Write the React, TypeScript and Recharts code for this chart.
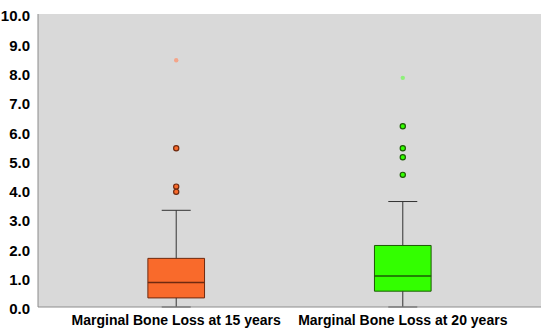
import React from "react";
import {
  ComposedChart,
  XAxis,
  YAxis,
  CartesianGrid,
  ReferenceArea,
  ReferenceLine,
  Scatter,
} from "recharts";

const categories = ["Marginal Bone Loss at 15 years", "Marginal Bone Loss at 20 years"];
const positions = [1, 2];
const mins = [0, 0];
const q1s = [0.31, 0.54];
const medians = [0.84, 1.06];
const q3s = [1.66, 2.1];
const maxs = [3.3, 3.6];
const outliers15 = [5.42, 4.11, 3.93];
const outliers20 = [6.17, 5.42, 5.11, 4.51];
const extremes = [[8.42], [7.82]];
const yTicks = [0, 1, 2, 3, 4, 5, 6, 7, 8, 9, 10];

const fills = ["#f96a2b", "#33ff00"];
const strokes = ["#6e2a10", "#1d5a06"];
const faint = ["#f4a58a", "#8ef07a"];

const BOX_HALF = 0.125;
const CAP_HALF = 0.064;
const FONT = "'Liberation Sans', Arial, sans-serif";

const outlierSets = [outliers15, outliers20];

export default function App() {
  return (
    <div style={{ width: 550, height: 332, background: "#fff" }}>
      <style>{"body{margin:0}"}</style>
      <ComposedChart
        width={550}
        height={332}
        margin={{ top: 14, right: 9, bottom: 0, left: 0 }}
      >
        <CartesianGrid fill="#d9d9d9" horizontal={false} vertical={false} />
        <XAxis
          dataKey="x"
          type="number"
          domain={[0.39, 2.61]}
          ticks={positions}
          tickFormatter={(v: number) => categories[positions.indexOf(v)] ?? ""}
          tickLine={false}
          axisLine={{ stroke: "#8c8c8c" }}
          height={25}
          allowDataOverflow
          tick={{ fill: "#000", fontSize: 14, fontWeight: "bold", fontFamily: FONT }}
        />
        <YAxis
          dataKey="y"
          type="number"
          domain={[0, 10]}
          ticks={yTicks}
          tickFormatter={(v: number) => v.toFixed(1)}
          tickLine={false}
          axisLine={{ stroke: "#8c8c8c" }}
          width={38}
          interval={0}
          tick={{ fill: "#000", fontSize: 15, fontWeight: "bold", fontFamily: FONT, dy: 2 }}
        />
        {positions.map((p, i) => (
          <React.Fragment key={i}>
            <ReferenceLine
              segment={[{ x: p, y: q3s[i] }, { x: p, y: maxs[i] }]}
              stroke="#333"
              strokeWidth={1}
            />
            <ReferenceLine
              segment={[{ x: p, y: mins[i] }, { x: p, y: q1s[i] }]}
              stroke="#333"
              strokeWidth={1}
            />
            <ReferenceLine
              segment={[{ x: p - CAP_HALF, y: maxs[i] }, { x: p + CAP_HALF, y: maxs[i] }]}
              stroke="#333"
              strokeWidth={1}
            />
            <ReferenceLine
              segment={[{ x: p - CAP_HALF, y: mins[i] }, { x: p + CAP_HALF, y: mins[i] }]}
              stroke="#333"
              strokeWidth={1}
              ifOverflow="visible"
            />
            <ReferenceArea
              x1={p - BOX_HALF}
              x2={p + BOX_HALF}
              y1={q1s[i]}
              y2={q3s[i]}
              fill={fills[i]}
              fillOpacity={1}
              stroke={strokes[i]}
              strokeWidth={1}
            />
            <ReferenceLine
              segment={[{ x: p - BOX_HALF, y: medians[i] }, { x: p + BOX_HALF, y: medians[i] }]}
              stroke={strokes[i]}
              strokeWidth={1.5}
            />
          </React.Fragment>
        ))}
        {positions.map((p, i) => (
          <Scatter
            key={"o" + i}
            data={outlierSets[i].map((y) => ({ x: p, y }))}
            isAnimationActive={false}
            shape={(props: any) => (
              <circle
                cx={props.cx}
                cy={props.cy}
                r={2.6}
                fill={fills[i]}
                stroke={strokes[i]}
                strokeWidth={1.2}
              />
            )}
          />
        ))}
        {positions.map((p, i) => (
          <Scatter
            key={"e" + i}
            data={extremes[i].map((y) => ({ x: p, y }))}
            isAnimationActive={false}
            shape={(props: any) => (
              <circle cx={props.cx} cy={props.cy} r={2.2} fill={faint[i]} />
            )}
          />
        ))}
      </ComposedChart>
    </div>
  );
}
